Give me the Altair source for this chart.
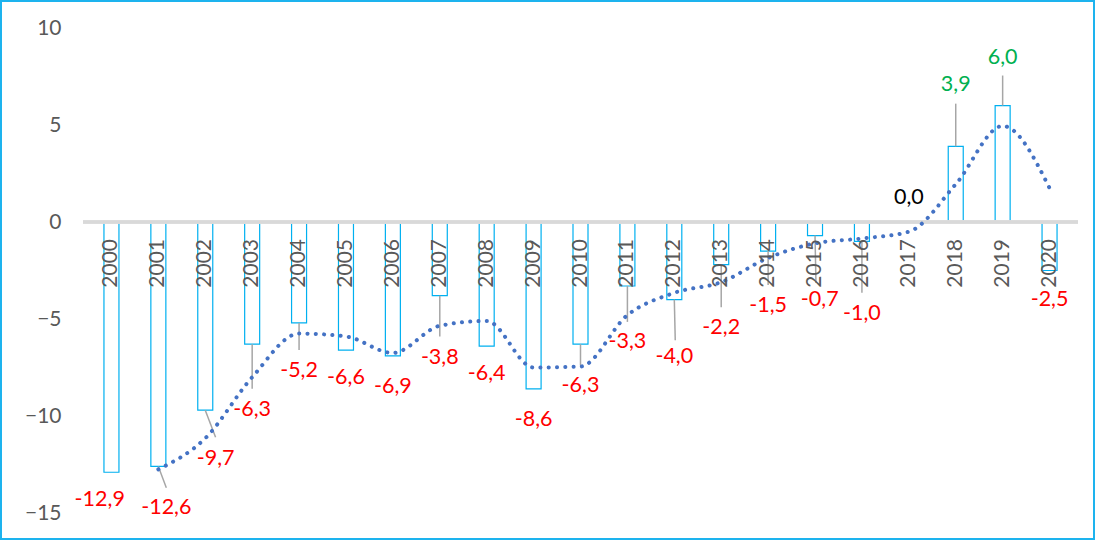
import altair as alt
import pandas as pd

# Annual balance, 2000-2020
years = list(range(2000, 2021))
values = [-12.9, -12.6, -9.7, -6.3, -5.2, -6.6, -6.9, -3.8, -6.4, -8.6, -6.3,
          -3.3, -4.0, -2.2, -1.5, -0.7, -1.0, 0.0, 3.9, 6.0, -2.5]

# Two-period moving-average trend (starts in 2001)
trend_years = list(range(2001, 2021))
trend_values = [-12.75, -11.15, -8.0, -5.75, -5.9, -6.75, -5.35, -5.1, -7.5, -7.45,
                -4.8, -3.65, -3.1, -1.85, -1.1, -0.85, -0.5, 1.95, 4.95, 1.75]

# Where each value label sits (year shift, value-axis level)
label_shift = [-0.25, 0.17, 0.22, 0, 0, 0, 0, 0, 0, 0, 0,
               0, 0, 0, 0, 0.1, 0, 0, 0, 0, 0]
label_level = [-14.33, -14.74, -12.22, -9.69, -7.68, -8.04, -8.5, -7.0, -7.84, -10.2, -8.45,
               -6.19, -6.96, -5.46, -4.33, -4.02, -4.74, 1.24, 7.06, 8.45, -4.02]

# Leader lines from bar end to label
leader_years = [2001, 2002, 2003, 2004, 2007, 2010, 2011, 2012, 2013, 2014, 2015, 2016, 2018, 2019]
leader_shift = [0.17, 0.22, 0, 0, 0, 0, 0, 0.02, 0, 0, 0.02, 0, 0, 0]
leader_end = [-13.7, -11.1, -8.6, -6.6, -5.9, -7.4, -5.15, -6.1, -4.4, -3.25, -3.15, -3.65, 6.1, 7.55]

W, H = 995, 485
FONT = "Lato"

bars = pd.DataFrame({"year": years, "value": values})
bars["label"] = bars["value"].map(lambda v: f"{v:.1f}".replace(".", ","))
bars["tone"] = bars["value"].map(lambda v: "neg" if v < 0 else ("pos" if v > 0 else "zero"))
bars["lx"] = [y + s for y, s in zip(years, label_shift)]
bars["ly"] = label_level
bars["yr"] = bars["year"].astype(str)

trend = pd.DataFrame({"year": trend_years, "value": trend_values})

vmap = dict(zip(years, values))
leaders = pd.DataFrame({
    "year": leader_years,
    "start": [vmap[y] for y in leader_years],
    "x2": [y + s for y, s in zip(leader_years, leader_shift)],
    "end": leader_end,
})

xs = alt.Scale(domain=[1999.5, 2020.5], nice=False, zero=False)
ys = alt.Scale(domain=[-15, 10], nice=False, zero=False)
X = lambda f: alt.X(f, type="quantitative", scale=xs, axis=None)

bar_layer = alt.Chart(bars).mark_bar(
    size=15, fill="white", stroke="#00B0F0", strokeWidth=1.2
).encode(
    x=X("year"),
    y=alt.Y("value:Q", scale=ys, title=None,
            axis=alt.Axis(values=[-15, -10, -5, 0, 5, 10], grid=False, domain=False,
                          ticks=False, labelPadding=22, labelFont=FONT, labelFontSize=21,
                          labelColor="#595959")),
    y2=alt.datum(0),
)

zero_rule = alt.Chart(bars).mark_rule(color="#D9D9D9", strokeWidth=2.5).encode(
    y=alt.datum(0), x=alt.value(0), x2=alt.value(W)
)

leader_layer = alt.Chart(leaders).mark_rule(color="#A6A6A6", strokeWidth=1.5).encode(
    x=X("year"), y=alt.Y("start:Q", scale=ys), x2="x2:Q", y2="end:Q"
)

trend_layer = alt.Chart(trend).mark_line(
    color="#4472C4", strokeWidth=4, strokeDash=[0.1, 8.2], strokeCap="round",
    interpolate="monotone"
).encode(x=X("year"), y=alt.Y("value:Q", scale=ys))

year_labels = alt.Chart(bars).mark_text(
    angle=270, align="right", baseline="middle", dx=-17,
    font=FONT, fontSize=21, color="#595959"
).encode(x=X("year"), y=alt.datum(0), text="yr:N")

value_labels = alt.Chart(bars).mark_text(
    align="center", baseline="middle", font=FONT, fontSize=21.5
).encode(
    x=X("lx"),
    y=alt.Y("ly:Q", scale=ys),
    text="label:N",
    color=alt.Color("tone:N", legend=None,
                    scale=alt.Scale(domain=["neg", "zero", "pos"],
                                    range=["#FF0000", "#000000", "#00B050"])),
)

frame = alt.Chart(bars).mark_rect(
    fill=None, stroke="#1DB3EE", strokeWidth=2
).encode(
    x=alt.value(-82), x2=alt.value(1011), y=alt.value(-27), y2=alt.value(511)
)

chart = alt.layer(
    bar_layer, zero_rule, leader_layer, trend_layer, year_labels, value_labels, frame
).properties(
    width=W, height=H, autosize="none",
    padding={"left": 83, "top": 28, "right": 21, "bottom": 27},
    background="white",
).configure_view(stroke=None)

chart.save("out.html", embed_options={"renderer": "svg", "actions": False})
